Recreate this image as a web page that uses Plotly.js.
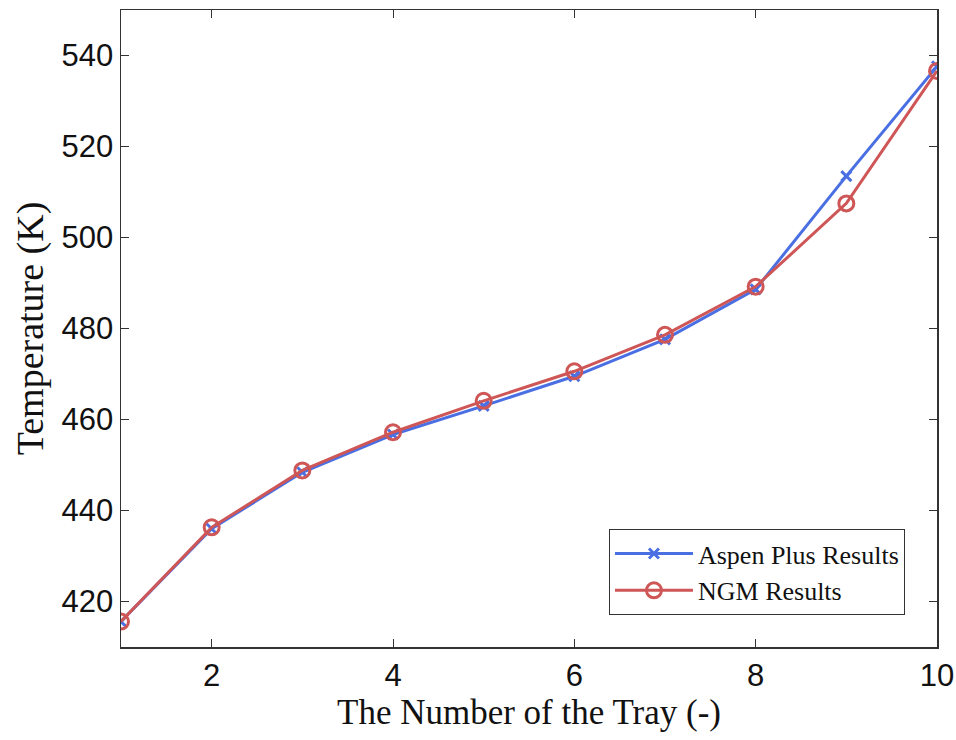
<!DOCTYPE html>
<html>
<head>
<meta charset="utf-8">
<script src="https://cdn.plot.ly/plotly-3.0.1.min.js"></script>
<style>html,body{margin:0;padding:0;background:#fff;}#chart{width:956px;height:740px;}</style>
</head>
<body>
<div id="chart"></div>
<script>
const trays = [1, 2, 3, 4, 5, 6, 7, 8, 9, 10];
const aspenTemps = [415.6, 436.0, 448.4, 456.7, 463.0, 469.5, 477.6, 488.6, 513.5, 537.6];
const ngmTemps = [415.6, 436.3, 448.8, 457.2, 464.1, 470.6, 478.6, 489.2, 507.5, 536.6];
const xTicks = [2, 4, 6, 8, 10];
const yTicks = [420, 440, 460, 480, 500, 520, 540];

const blue = '#4a6fe3';
const red = '#cf5656';

const traces = [
  {
    x: trays, y: aspenTemps, name: 'Aspen Plus Results', type: 'scatter', mode: 'lines+markers',
    line: {color: blue, width: 3},
    marker: {symbol: 'x-thin-open', size: 10, color: blue, line: {color: blue, width: 3}}
  },
  {
    x: trays, y: ngmTemps, name: 'NGM Results', type: 'scatter', mode: 'lines+markers',
    line: {color: red, width: 3},
    marker: {symbol: 'circle-open', size: 15, color: red, line: {color: red, width: 3}}
  }
];

const layout = {
  width: 956, height: 740,
  margin: {l: 121, r: 19, t: 10, b: 93},
  paper_bgcolor: '#fff', plot_bgcolor: '#fff',
  showlegend: true,
  legend: {
    x: 0.598, y: 0.05, xanchor: 'left', yanchor: 'bottom',
    bordercolor: '#333', borderwidth: 1, bgcolor: '#fff',
    font: {family: 'Liberation Serif, Times New Roman, serif', size: 26, color: '#111'},
    tracegroupgap: 0, itemwidth: 78
  },
  xaxis: {
    range: [1, 10], tickvals: xTicks, ticktext: xTicks.map(String),
    ticks: 'inside', ticklen: 8, tickwidth: 1, tickcolor: '#333',
    showline: true, linecolor: '#333', linewidth: 1.5, mirror: 'ticks',
    showgrid: false, zeroline: false,
    tickfont: {family: 'Liberation Sans, Arial, sans-serif', size: 31, color: '#111'},
    title: {text: 'The Number of the Tray (-)', standoff: 4,
      font: {family: 'Liberation Serif, Times New Roman, serif', size: 35, color: '#111'}}
  },
  yaxis: {
    range: [410, 550], tickvals: yTicks,
    ticks: 'inside', ticklen: 8, tickwidth: 1, tickcolor: '#333',
    showline: true, linecolor: '#333', linewidth: 1.5, mirror: 'ticks',
    showgrid: false, zeroline: false,
    tickfont: {family: 'Liberation Sans, Arial, sans-serif', size: 31, color: '#111'},
    title: {text: 'Temperature (K)', standoff: 6,
      font: {family: 'Liberation Serif, Times New Roman, serif', size: 38, color: '#111'}}
  }
};

Plotly.newPlot('chart', traces, layout, {displayModeBar: false, staticPlot: true});
</script>
</body>
</html>
